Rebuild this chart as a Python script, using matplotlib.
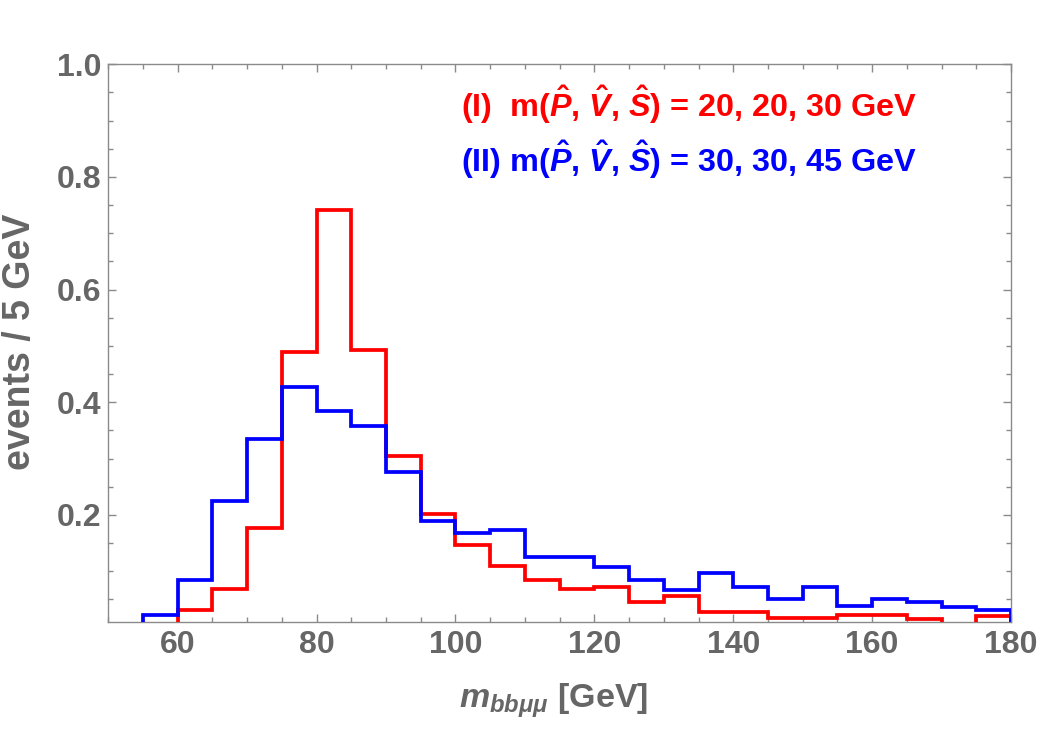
import numpy as np
import matplotlib
matplotlib.use("Agg")
import matplotlib.pyplot as plt
from matplotlib.ticker import MultipleLocator, FormatStrFormatter

# ---- data ----
bin_edges = [55, 60, 65, 70, 75, 80, 85, 90, 95, 100, 105, 110, 115, 120, 125,
             130, 135, 140, 145, 150, 155, 160, 165, 170, 175, 180]
red_values = [0.0, 0.031, 0.069, 0.177, 0.490, 0.741, 0.493, 0.304, 0.202, 0.146,
              0.109, 0.084, 0.069, 0.072, 0.046, 0.056, 0.027, 0.027, 0.017,
              0.017, 0.022, 0.022, 0.015, 0.0, 0.020]
blue_values = [0.022, 0.085, 0.224, 0.335, 0.428, 0.384, 0.358, 0.276, 0.189,
               0.168, 0.174, 0.125, 0.125, 0.108, 0.085, 0.067, 0.097, 0.072,
               0.050, 0.073, 0.038, 0.051, 0.046, 0.036, 0.031]
red_label = r"(I)  m($\hat{P}$, $\hat{V}$, $\hat{S}$) = 20, 20, 30 GeV"
blue_label = r"(II) m($\hat{P}$, $\hat{V}$, $\hat{S}$) = 30, 30, 45 GeV"
x_label = r"$m_{bb\mu\mu}$ [GeV]"
y_label = "events / 5 GeV"

# ---- style ----
plt.rcParams["font.family"] = ["Liberation Sans", "DejaVu Sans"]
plt.rcParams["font.weight"] = "bold"
plt.rcParams["mathtext.fontset"] = "custom"
plt.rcParams["mathtext.rm"] = "Liberation Sans:bold"
plt.rcParams["mathtext.it"] = "Liberation Sans:italic:bold"
plt.rcParams["mathtext.bf"] = "Liberation Sans:bold"

gray_text = "#666666"
gray_axis = "#8a8a8a"

fig = plt.figure(figsize=(10.42, 7.30), dpi=100)
ax = fig.add_axes([108.3 / 1042, 1 - 622.3 / 730, (1011 - 108.3) / 1042, (622.3 - 64.3) / 730])

ax.stairs(red_values, bin_edges, color="#ff0000", lw=2.7, baseline=0, zorder=3)
ax.stairs(blue_values, bin_edges, color="#0000ff", lw=2.7, baseline=0, zorder=4)

ax.set_xlim(50, 180)
ax.set_ylim(0.0095, 1.0)

ax.xaxis.set_major_locator(MultipleLocator(20))
ax.xaxis.set_minor_locator(MultipleLocator(5))
ax.yaxis.set_major_locator(MultipleLocator(0.2))
ax.yaxis.set_minor_locator(MultipleLocator(0.05))
ax.yaxis.set_major_formatter(FormatStrFormatter("%.1f"))

ax.tick_params(which="both", direction="in", top=True, right=True,
               color=gray_axis, width=1.0)
ax.tick_params(which="major", length=6, labelsize=23, labelcolor=gray_text)
ax.tick_params(which="minor", length=3.5)
ax.tick_params(axis="x", which="major", pad=5.5)
ax.tick_params(axis="y", which="major", pad=5.0)
for lab in ax.get_xticklabels() + ax.get_yticklabels():
    lab.set_fontweight("bold")

for s in ax.spines.values():
    s.set_color(gray_axis)
    s.set_linewidth(1.0)

ax.set_xlabel(x_label, fontsize=24.5, color=gray_text, fontweight="bold")
ax.set_ylabel(y_label, fontsize=27, color=gray_text, fontweight="bold")
ax.xaxis.label.set_va("baseline")
ax.yaxis.label.set_va("baseline")
ax.xaxis.set_label_coords(0.493, -(708 - 622.3) / 558)
ax.yaxis.set_label_coords((30 - 108.3) / 902.7, 0.502)

ax.text(0.8959, 0.9061, red_label, transform=ax.transAxes, ha="right",
        va="baseline", fontsize=23.3, color="#ff0000", fontweight="bold")
ax.text(0.8959, 0.8075, blue_label, transform=ax.transAxes, ha="right",
        va="baseline", fontsize=23.3, color="#0000ff", fontweight="bold")

fig.savefig("out.png", dpi=100)
